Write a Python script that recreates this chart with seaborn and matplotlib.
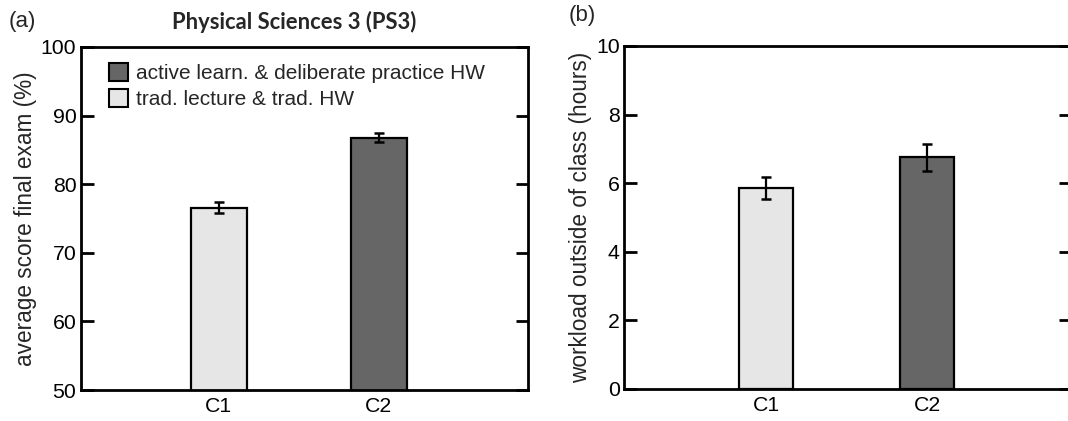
import matplotlib
matplotlib.use("Agg")
import matplotlib.pyplot as plt
import seaborn as sns
import pandas as pd
from matplotlib.patches import Patch

# ---- data ----
categories = ["C1", "C2"]
conditions = ["trad. lecture & trad. HW", "active learn. & deliberate practice HW"]
exam_mean = [76.6, 86.8]
exam_err = [0.8, 0.6]
workload_mean = [5.85, 6.75]
workload_err = [0.32, 0.39]
colors = {"trad. lecture & trad. HW": "#e6e6e6",
          "active learn. & deliberate practice HW": "#666666"}

sns.set_theme(style="white")
plt.rcParams["font.family"] = ["Liberation Sans", "DejaVu Sans"]

fig = plt.figure(figsize=(10.68, 4.21), dpi=100)
axA = fig.add_axes([80.5 / 1068, (421 - 390) / 421, (528 - 80.5) / 1068, (390 - 47) / 421])
axB = fig.add_axes([624 / 1068, (421 - 389) / 421, 447 / 1068, (389 - 46) / 421])

dfA = pd.DataFrame({"cat": categories, "val": exam_mean, "cond": conditions})
dfB = pd.DataFrame({"cat": categories, "val": workload_mean, "cond": conditions})

def draw(ax, df, err, width, ylim, yticks, ylabel, xlim):
    sns.barplot(data=df, x="cat", y="val", hue="cond", palette=colors,
                order=categories, hue_order=conditions, dodge=False,
                width=width, edgecolor="black", linewidth=1.6,
                errorbar=None, legend=False, ax=ax)
    ax.errorbar([0, 1], df["val"], yerr=err, fmt="none", ecolor="black",
                elinewidth=1.6, capsize=3.5, capthick=1.8, zorder=5)
    ax.set_ylim(*ylim)
    ax.set_xlim(*xlim)
    ax.set_yticks(yticks)
    ax.set_xlabel("")
    ax.set_ylabel(ylabel, fontsize=16.3, labelpad=3)
    for s in ax.spines.values():
        s.set_visible(True)
        s.set_linewidth(2.0)
        s.set_color("black")
    ax.tick_params(axis="y", which="both", direction="in", length=9, width=2,
                   left=True, right=True, labelsize=15.3, pad=3, colors="black")
    ax.tick_params(axis="x", length=0, labelsize=15.3, pad=5, colors="black")
    for t in ax.get_xticklabels() + ax.get_yticklabels():
        t.set_color("black")

draw(axA, dfA, exam_err, 0.35, (50, 100), [50, 60, 70, 80, 90, 100],
     "average score final exam (%)", (-0.864, 1.934))
draw(axB, dfB, workload_err, 0.334, (0, 10), [0, 2, 4, 6, 8, 10],
     "workload outside of class (hours)", (-0.879, 1.889))

handles = [Patch(facecolor=colors[conditions[1]], edgecolor="black", linewidth=1.5, label=conditions[1]),
           Patch(facecolor=colors[conditions[0]], edgecolor="black", linewidth=1.5, label=conditions[0])]
axA.legend(handles=handles, loc="upper left", bbox_to_anchor=(0.035, 0.99), frameon=False,
           fontsize=15, handlelength=0.95, handleheight=0.95, handletextpad=0.35,
           labelspacing=0.3, borderaxespad=0.2)

fig.text(294 / 1068, 1 - 22 / 421, "Physical Sciences 3 (PS3)", ha="center", va="center",
         fontsize=15.8, fontweight="bold", family=["Lato", "DejaVu Sans"])
fig.text(9 / 1068, 1 - 22 / 421, "(a)", ha="left", va="center", fontsize=16)
fig.text(569 / 1068, 1 - 16 / 421, "(b)", ha="left", va="center", fontsize=16)

fig.savefig("out.png", dpi=100)
